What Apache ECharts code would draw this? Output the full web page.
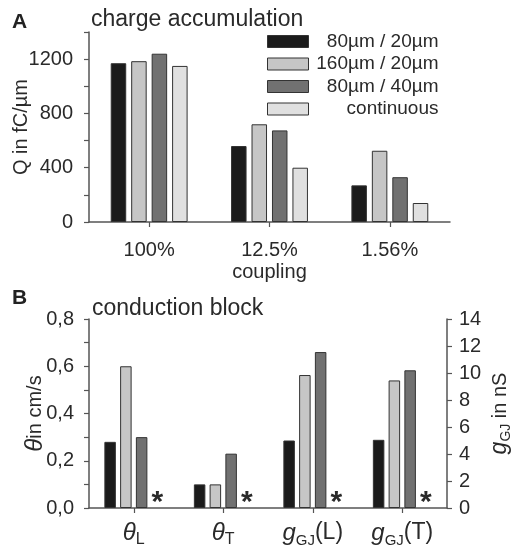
<!DOCTYPE html>
<html>
<head>
<meta charset="utf-8">
<script src="https://cdn.jsdelivr.net/npm/echarts@6/dist/echarts.min.js"></script>
<style>
html, body { margin: 0; padding: 0; background: #fff; }
#main { width: 516px; height: 554px; }
</style>
</head>
<body>
<div id="main"></div>
<script>
// panel A: charge accumulation
var couplingCats = ['100%', '12.5%', '1.56%'];
var seriesNames = ['80µm / 20µm', '160µm / 20µm', '80µm / 40µm', 'continuous'];
var charge80_20 = [1170, 560, 270];
var charge160_20 = [1185, 720, 525];
var charge80_40 = [1240, 675, 330];
var chargeCont = [1150, 400, 140];

// panel B: conduction block
var blockCats = ['thetaL', 'thetaT', 'gL', 'gT'];
var theta80_20 = [0.28, 0.10];
var theta160_20 = [0.60, 0.10];
var theta80_40 = [0.30, 0.23];
var gj80_20 = [5.0, 5.05];
var gj160_20 = [9.85, 9.45];
var gj80_40 = [11.55, 10.2];
var blockCont = [0, 0, 0, 0]; // no block -> asterisk

var barColors = ['#1b1b1b', '#c6c6c6', '#717171', '#e0e0e0'];
var textColor = '#2a2a2a';
var axisColor = '#555';
var fontFamily = '"Liberation Sans", Arial, sans-serif';

var blockLabels = {
    thetaL: '{th|θ}{sub|L}',
    thetaT: '{th|θ}{sub|T}',
    gL: '{g|g}{gsub|GJ}{n|(L)}',
    gT: '{g|g}{gsub|GJ}{n|(T)}'
};

var labelRich = {
    th: {fontSize: 24, fontStyle: 'italic', lineHeight: 30, color: textColor, fontFamily: fontFamily},
    sub: {fontSize: 16, lineHeight: 11, verticalAlign: 'bottom', color: textColor, fontFamily: fontFamily},
    g: {fontSize: 24, fontStyle: 'italic', lineHeight: 30, color: textColor, fontFamily: fontFamily},
    gsub: {fontSize: 15, lineHeight: 22, verticalAlign: 'bottom', color: textColor, fontFamily: fontFamily},
    n: {fontSize: 23, lineHeight: 30, color: textColor, fontFamily: fontFamily}
};

function leftPart(arr) { return arr.concat(['-', '-']); }
function rightPart(arr) { return ['-', '-'].concat(arr); }

var myChart = echarts.init(document.getElementById('main'));

var series = [];
var chargeData = [charge80_20, charge160_20, charge80_40, chargeCont];
chargeData.forEach(function (d, i) {
    series.push({
        name: seriesNames[i],
        type: 'bar',
        xAxisIndex: 0,
        yAxisIndex: 0,
        barWidth: 15.5,
        barGap: '32%',
        itemStyle: {color: barColors[i], borderColor: '#333', borderWidth: 1},
        data: d
    });
});

var thetaData = [theta80_20, theta160_20, theta80_40];
var gjData = [gj80_20, gj160_20, gj80_40];
var star = {
    show: true, position: 'top', distance: -10, formatter: '*',
    fontSize: 30, fontWeight: 'bold', color: textColor, fontFamily: fontFamily
};

thetaData.forEach(function (d, i) {
    series.push({
        type: 'bar', xAxisIndex: 1, yAxisIndex: 1,
        barWidth: 11.5, barGap: '37%',
        itemStyle: {color: barColors[i], borderColor: '#333', borderWidth: 1},
        data: leftPart(d)
    });
});
series.push({
    type: 'bar', xAxisIndex: 1, yAxisIndex: 1,
    barWidth: 11.5, barGap: '37%',
    itemStyle: {color: 'transparent', borderWidth: 0},
    label: star,
    data: leftPart(blockCont.slice(0, 2))
});
gjData.forEach(function (d, i) {
    series.push({
        type: 'bar', xAxisIndex: 2, yAxisIndex: 2,
        barWidth: 11.5, barGap: '37%',
        itemStyle: {color: barColors[i], borderColor: '#333', borderWidth: 1},
        data: rightPart(d)
    });
});
series.push({
    type: 'bar', xAxisIndex: 2, yAxisIndex: 2,
    barWidth: 11.5, barGap: '37%',
    itemStyle: {color: 'transparent', borderWidth: 0},
    label: star,
    data: rightPart(blockCont.slice(2, 4))
});

var axisLine = {show: true, lineStyle: {color: axisColor, width: 1.5}};
var axisTick = {show: true, length: 5, lineStyle: {color: axisColor, width: 1.2}};

var option = {
    animation: false,
    backgroundColor: '#fff',
    textStyle: {fontFamily: fontFamily, color: textColor},
    title: [
        {text: 'A', left: 12, top: 12, padding: 0, textStyle: {fontSize: 21, fontWeight: 'bold', color: '#222', fontFamily: fontFamily}},
        {text: 'charge accumulation', left: 91, top: 8, padding: 0, textStyle: {fontSize: 23, fontWeight: 'normal', color: textColor, fontFamily: fontFamily}},
        {text: 'B', left: 12, top: 288, padding: 0, textStyle: {fontSize: 21, fontWeight: 'bold', color: '#222', fontFamily: fontFamily}},
        {text: 'conduction block', left: 92, top: 297, padding: 0, textStyle: {fontSize: 23, fontWeight: 'normal', color: textColor, fontFamily: fontFamily}}
    ],
    legend: {
        data: seriesNames,
        orient: 'vertical',
        icon: 'rect',
        left: 267,
        top: 32,
        padding: 0,
        itemWidth: 41,
        itemHeight: 12,
        itemGap: 3.5,
        itemStyle: {borderColor: '#333', borderWidth: 1},
        formatter: function (name) { return '{n|' + name + '}'; },
        textStyle: {
            rich: {n: {width: 125, align: 'right', fontSize: 19, lineHeight: 20, color: textColor, fontFamily: fontFamily}}
        }
    },
    grid: [
        {left: 89, right: 66, top: 32, bottom: 332, containLabel: false, outerBoundsMode: 'none'},
        {left: 89, right: 69, top: 319, bottom: 46, containLabel: false, outerBoundsMode: 'none'}
    ],
    xAxis: [
        {
            type: 'category', gridIndex: 0, data: couplingCats,
            name: 'coupling', nameLocation: 'middle', nameGap: 40, nameMoveOverlap: false,
            nameTextStyle: {fontSize: 20, color: textColor, fontFamily: fontFamily},
            axisLine: axisLine,
            axisTick: {show: true, alignWithLabel: true, length: 5, lineStyle: {color: axisColor, width: 1.2}},
            axisLabel: {fontSize: 20, margin: 18, color: textColor, fontFamily: fontFamily}
        },
        {
            type: 'category', gridIndex: 1, data: blockCats,
            axisLine: axisLine,
            axisTick: {show: true, alignWithLabel: true, length: 5, lineStyle: {color: axisColor, width: 1.2}},
            axisLabel: {
                margin: 10, interval: 0,
                formatter: function (v) { return blockLabels[v]; },
                rich: labelRich
            }
        },
        {
            type: 'category', gridIndex: 1, data: blockCats, show: false
        }
    ],
    yAxis: [
        {
            type: 'value', gridIndex: 0, min: 0, max: 1400, interval: 200,
            name: 'Q in fC/µm', nameLocation: 'middle', nameGap: 58, nameRotate: 90, nameMoveOverlap: false,
            nameTextStyle: {fontSize: 20, color: textColor, fontFamily: fontFamily},
            axisLine: axisLine, axisTick: axisTick, splitLine: {show: false},
            axisLabel: {
                fontSize: 20, margin: 16, color: textColor, fontFamily: fontFamily,
                formatter: function (v) { return v % 400 === 0 ? String(v) : ''; }
            }
        },
        {
            type: 'value', gridIndex: 1, min: 0, max: 0.8, interval: 0.1,
            name: '{th|θ}{n|in cm/s}', nameLocation: 'middle', nameGap: 42, nameRotate: 90, nameMoveOverlap: false,
            nameTextStyle: {
                rich: {
                    th: {fontSize: 24, fontStyle: 'italic', color: textColor, fontFamily: fontFamily},
                    n: {fontSize: 20, color: textColor, fontFamily: fontFamily}
                }
            },
            axisLine: axisLine, axisTick: axisTick, splitLine: {show: false},
            axisLabel: {
                fontSize: 20, margin: 15, color: textColor, fontFamily: fontFamily,
                formatter: function (v) {
                    return Math.round(v * 10) % 2 === 0 ? v.toFixed(1).replace('.', ',') : '';
                }
            }
        },
        {
            type: 'value', gridIndex: 1, position: 'right', min: 0, max: 14, interval: 2,
            name: '{g|g}{gsub|GJ}{n| in nS}', nameLocation: 'middle', nameGap: 40, nameRotate: 90, nameMoveOverlap: false,
            nameTextStyle: {
                rich: {
                    g: {fontSize: 23, fontStyle: 'italic', lineHeight: 26, color: textColor, fontFamily: fontFamily},
                    gsub: {fontSize: 14, lineHeight: 20, verticalAlign: 'bottom', color: textColor, fontFamily: fontFamily},
                    n: {fontSize: 20, lineHeight: 26, color: textColor, fontFamily: fontFamily}
                }
            },
            axisLine: axisLine, axisTick: axisTick, splitLine: {show: false},
            axisLabel: {fontSize: 20, margin: 12, color: textColor, fontFamily: fontFamily}
        }
    ],
    series: series
};

myChart.setOption(option);
</script>
</body>
</html>
